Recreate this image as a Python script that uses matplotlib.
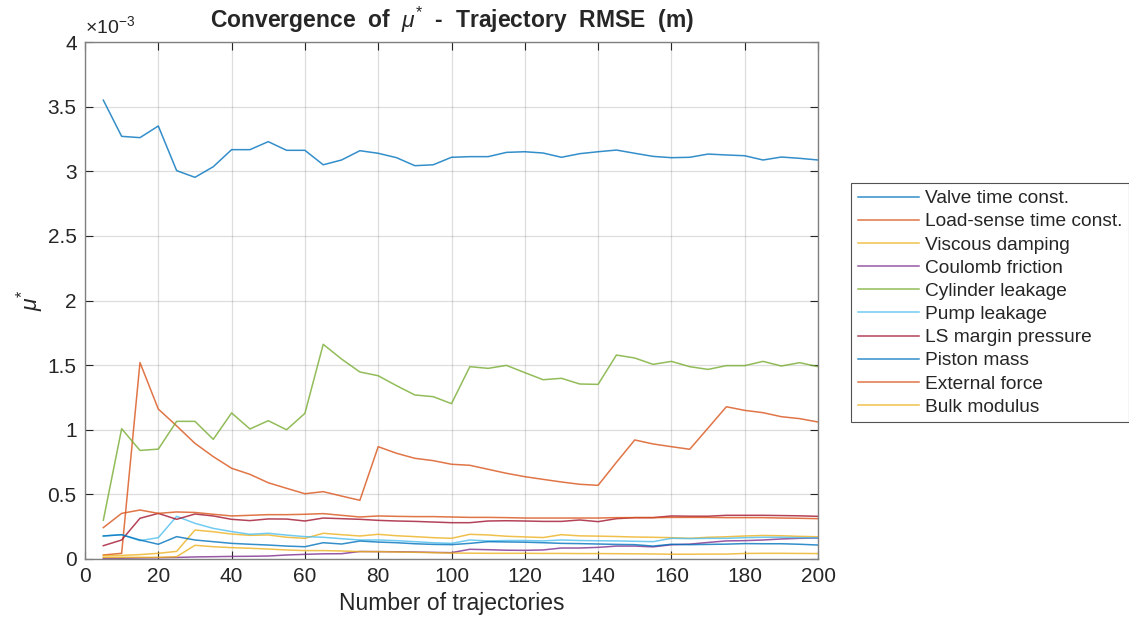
import numpy as np
import matplotlib
matplotlib.use("Agg")
import matplotlib.pyplot as plt

plt.rcParams["font.family"] = ["Liberation Sans", "DejaVu Sans"]
plt.rcParams["mathtext.fontset"] = "custom"
plt.rcParams["mathtext.it"] = "Liberation Sans:italic"
plt.rcParams["mathtext.rm"] = "Liberation Sans"
plt.rcParams["mathtext.bf"] = "Liberation Sans:bold"

# number of trajectories used for each estimate
n_traj = np.arange(5, 205, 5)

# mu* per parameter, in units of 1e-3 m
valve_tc = [3.55, 3.27, 3.26, 3.35, 3.005, 2.953, 3.035, 3.167, 3.167, 3.229,
            3.162, 3.162, 3.05, 3.087, 3.159, 3.139, 3.105, 3.043, 3.05, 3.108,
            3.113, 3.113, 3.146, 3.151, 3.141, 3.108, 3.136, 3.151, 3.164, 3.139,
            3.115, 3.105, 3.108, 3.133, 3.126, 3.12, 3.087, 3.11, 3.1, 3.087]
loadsense_tc = [0.031, 0.044, 1.52, 1.16, 1.03, 0.895, 0.792, 0.702, 0.655, 0.59,
                0.547, 0.505, 0.521, 0.487, 0.454, 0.869, 0.818, 0.779, 0.761, 0.733,
                0.725, 0.694, 0.663, 0.637, 0.616, 0.596, 0.578, 0.57, 0.748, 0.921,
                0.89, 0.869, 0.849, 1.013, 1.178, 1.15, 1.132, 1.101, 1.086, 1.06]
viscous = [0.026, 0.028, 0.034, 0.044, 0.059, 0.224, 0.211, 0.193, 0.183, 0.186,
           0.168, 0.16, 0.199, 0.188, 0.178, 0.191, 0.18, 0.173, 0.165, 0.16,
           0.191, 0.186, 0.176, 0.171, 0.166, 0.188, 0.179, 0.177, 0.174, 0.17,
           0.168, 0.165, 0.16, 0.168, 0.172, 0.178, 0.182, 0.18, 0.175, 0.172]
coulomb = [0.005, 0.006, 0.008, 0.01, 0.012, 0.016, 0.018, 0.02, 0.021, 0.023,
           0.031, 0.036, 0.04, 0.041, 0.058, 0.057, 0.056, 0.054, 0.051, 0.049,
           0.075, 0.072, 0.068, 0.067, 0.07, 0.085, 0.085, 0.09, 0.1, 0.1,
           0.094, 0.11, 0.115, 0.128, 0.14, 0.142, 0.147, 0.155, 0.16, 0.162]
cyl_leak = [0.3, 1.008, 0.84, 0.85, 1.065, 1.065, 0.926, 1.13, 1.006, 1.07,
            1.0, 1.127, 1.661, 1.547, 1.447, 1.418, 1.341, 1.269, 1.256, 1.202,
            1.488, 1.475, 1.498, 1.442, 1.387, 1.398, 1.354, 1.351, 1.578, 1.555,
            1.506, 1.529, 1.488, 1.467, 1.496, 1.496, 1.529, 1.493, 1.519, 1.488]
pump_leak = [0.178, 0.188, 0.142, 0.165, 0.33, 0.276, 0.237, 0.212, 0.191, 0.199,
             0.185, 0.173, 0.168, 0.157, 0.147, 0.147, 0.142, 0.134, 0.126, 0.121,
             0.147, 0.14, 0.143, 0.143, 0.14, 0.147, 0.143, 0.141, 0.14, 0.137,
             0.134, 0.16, 0.158, 0.16, 0.16, 0.165, 0.168, 0.168, 0.165, 0.163]
ls_margin = [0.103, 0.147, 0.315, 0.353, 0.307, 0.348, 0.333, 0.307, 0.297, 0.31,
             0.309, 0.294, 0.317, 0.312, 0.307, 0.299, 0.294, 0.291, 0.286, 0.281,
             0.281, 0.294, 0.296, 0.294, 0.291, 0.291, 0.302, 0.289, 0.312, 0.32,
             0.32, 0.333, 0.331, 0.331, 0.338, 0.338, 0.338, 0.336, 0.334, 0.33]
piston_mass = [0.178, 0.188, 0.147, 0.114, 0.173, 0.147, 0.134, 0.121, 0.114, 0.108,
               0.1, 0.095, 0.126, 0.116, 0.139, 0.131, 0.126, 0.118, 0.113, 0.111,
               0.121, 0.134, 0.132, 0.13, 0.126, 0.121, 0.119, 0.116, 0.113, 0.111,
               0.1, 0.114, 0.111, 0.113, 0.115, 0.119, 0.118, 0.118, 0.114, 0.108]
ext_force = [0.243, 0.353, 0.379, 0.353, 0.364, 0.36, 0.346, 0.333, 0.338, 0.343,
             0.343, 0.346, 0.351, 0.338, 0.325, 0.333, 0.33, 0.328, 0.328, 0.325,
             0.322, 0.322, 0.32, 0.317, 0.317, 0.317, 0.317, 0.317, 0.32, 0.32,
             0.32, 0.322, 0.322, 0.322, 0.32, 0.32, 0.32, 0.317, 0.315, 0.312]
bulk_mod = [0.013, 0.013, 0.013, 0.013, 0.018, 0.106, 0.095, 0.088, 0.083, 0.077,
            0.07, 0.065, 0.065, 0.062, 0.057, 0.057, 0.054, 0.052, 0.049, 0.046,
            0.045, 0.044, 0.044, 0.044, 0.043, 0.043, 0.042, 0.042, 0.041, 0.04,
            0.039, 0.037, 0.037, 0.038, 0.038, 0.043, 0.044, 0.044, 0.043, 0.042]

labels = ["Valve time const.", "Load-sense time const.", "Viscous damping",
          "Coulomb friction", "Cylinder leakage", "Pump leakage",
          "LS margin pressure", "Piston mass", "External force", "Bulk modulus"]
series = [valve_tc, loadsense_tc, viscous, coulomb, cyl_leak, pump_leak,
          ls_margin, piston_mass, ext_force, bulk_mod]

# default matlab line order
colors = ["#0072BD", "#D95319", "#EDB120", "#7E2F8E", "#77AC30",
          "#4DBEEE", "#A2142F", "#0072BD", "#D95319", "#EDB120"]

axcol = "#262626"

fig = plt.figure(figsize=(11.29, 6.21), dpi=100)
ax = fig.add_axes([85 / 1129, 62 / 621, 733 / 1129, 517 / 621])

for ys, lab, c in zip(series, labels, colors):
    ax.plot(n_traj, ys, color=c, lw=1.1, alpha=0.8, label=lab)

ax.set_xlim(0, 200)
ax.set_ylim(0, 4)
ax.set_xticks(np.arange(0, 201, 20))
yt = np.arange(0, 4.01, 0.5)
ax.set_yticks(yt)
ax.set_yticklabels([f"{v:g}" for v in yt])

ax.grid(True, color="#262626", alpha=0.15, lw=0.9)
ax.tick_params(direction="in", top=True, right=True, length=6,
               labelsize=15, colors=axcol, pad=6)
for s in ax.spines.values():
    s.set_color("#808080")
    s.set_linewidth(1.0)

ax.set_xlabel("Number of trajectories", fontsize=16.5, color=axcol, labelpad=4)
ax.set_ylabel(r"$\mu^{*}$", fontsize=16.5, color=axcol, labelpad=2)
ax.set_title(r"Convergence  of  $\mu^{*}$  -  Trajectory  RMSE  (m)",
             fontsize=16.5, fontweight="bold", color=axcol, pad=10)
ax.text(0, 1.01, r"$\times$10$^{-3}$", transform=ax.transAxes, fontsize=14,
        color=axcol, ha="left", va="bottom")

leg = ax.legend(loc="upper left", bbox_to_anchor=(1.045, 0.727), fontsize=13.8,
                frameon=True, fancybox=False, handlelength=3.2,
                handletextpad=0.3, labelspacing=0.3, borderpad=0.35,
                borderaxespad=0)
leg.get_frame().set_edgecolor(axcol)
leg.get_frame().set_linewidth(0.8)
for line in leg.get_lines():
    line.set_alpha(0.8)
for t in leg.get_texts():
    t.set_color(axcol)

fig.savefig("out.png", dpi=100)
